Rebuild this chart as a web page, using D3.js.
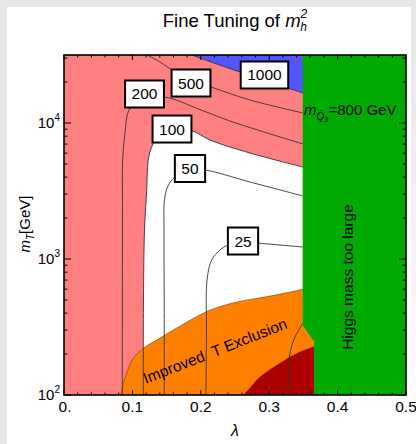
<!DOCTYPE html>
<html><head><meta charset="utf-8">
<script src="https://cdn.jsdelivr.net/npm/d3@7/dist/d3.min.js"></script>
<style>
html,body{margin:0;padding:0;background:#fff;}
svg{display:block;font-family:"Liberation Sans",Arial,sans-serif;}
</style></head>
<body>
<svg id="c" width="416" height="444"></svg>
<script>
// ---------- data (lambda, m_T [GeV]) ----------
const xTicks = [0, 0.1, 0.2, 0.3, 0.4, 0.5];
const xTickLabels = ["0.", "0.1", "0.2", "0.3", "0.4", "0.5"];
const yTicks = [100, 1000, 10000];
const yTickExps = ["2", "3", "4"];

const contour25 = [[0.2076,100],[0.2083,300],[0.2091,701],[0.2159,983],[0.2281,1165],[0.2398,1267],[0.2617,1334],[0.2822,1311],[0.3158,1267],[0.3494,1225]];
const contour50 = [[0.1466,100],[0.1465,499],[0.1462,1634],[0.1469,2716],[0.1520,3442],[0.1623,4008],[0.1842,4510],[0.2061,4510],[0.2719,3683],[0.3494,2905]];
const contour100 = [[0.1159,100],[0.1162,500],[0.1177,1634],[0.1209,3216],[0.1232,5345],[0.1282,6660],[0.1374,7890],[0.1550,8880],[0.1871,8740],[0.2135,7500],[0.2719,6015],[0.3494,4745]];
const contour200 = [[0.0852,100],[0.0855,2292],[0.0858,5345],[0.0892,8440],[0.0950,12460],[0.1111,14760],[0.1462,15530],[0.2003,12460],[0.2471,10165],[0.3494,7010]];
const contour500 = [[0.1213,31623],[0.1404,28090],[0.1579,24540],[0.1842,20700],[0.2149,18390],[0.2719,14760],[0.3494,11845]];
const contour1000 = [[0.1871,31623],[0.1988,30060],[0.2573,23710],[0.3275,18080],[0.3494,16620]];
const contourLow = [[0.3275,100],[0.3282,140],[0.3294,190],[0.3333,233],[0.3377,267],[0.3494,338]];

const exclusionTop = [[0.0833,100],[0.0867,122],[0.0917,145],[0.1013,187],[0.1159,220],[0.1404,262],[0.1648,311],[0.2086,410],[0.2471,475],[0.2963,528],[0.3450,592],[0.3494,601]];
const exclusionOldTop = [[0.2621,100],[0.2719,113],[0.2817,129],[0.2963,148],[0.3158,172],[0.3304,191],[0.3450,208],[0.3655,227]];
const higgsBoundary = [[0.349,31623],[0.5,31623],[0.5,100],[0.3655,100],[0.3655,247],[0.349,324]];

const labelNames = ["200","500","1000","100","50","25"];
const labelLambda = [0.1177,0.1857,0.2931,0.1579,0.1842,0.2617];
const labelMass = [16340,19680,22540,9030,4628,1356];

// ---------- layout ----------
const svg = d3.select("#c");
const x = d3.scaleLinear().domain([0,0.5]).range([64,406]);
const y = d3.scaleLog().domain([100,31623]).range([395,55]);
const X0 = x(0), X1 = x(0.5), Y0 = y(100), Y1 = y(31623);

// background frame
const defs = svg.append("defs");
const g1 = defs.append("linearGradient").attr("id","rg").attr("x1",0).attr("y1",0).attr("x2",0).attr("y2",1);
g1.append("stop").attr("offset","0").attr("stop-color","#e6e6e6");
g1.append("stop").attr("offset","1").attr("stop-color","#ffffff");
svg.append("rect").attr("x",0).attr("y",0).attr("width",416).attr("height",7).attr("fill","#e8e8e8");
svg.append("rect").attr("x",0).attr("y",0).attr("width",7).attr("height",444).attr("fill","#e8e8e8");
svg.append("rect").attr("x",411).attr("y",0).attr("width",5).attr("height",444).attr("fill","url(#rg)");

defs.append("clipPath").attr("id","plot").append("rect")
  .attr("x",X0).attr("y",Y1).attr("width",X1-X0).attr("height",Y0-Y1);

const P = svg.append("g").attr("clip-path","url(#plot)");
const curve = d3.curveCatmullRom.alpha(0.5);
const line = d3.line().x(d=>x(d[0])).y(d=>y(d[1])).curve(curve);
const lin = d3.line().x(d=>x(d[0])).y(d=>y(d[1]));

// pink base
P.append("rect").attr("x",X0).attr("y",Y1).attr("width",X1-X0).attr("height",Y0-Y1).attr("fill","#ff8080");
// white (below 100)
const last100 = contour100[contour100.length-1];
P.append("path").attr("fill","#fff")
  .attr("d", line(contour100) + `L${x(0.37)},${y(last100[1])}L${x(0.37)},${Y0}Z`);
// blue (above 1000)
const last1000 = contour1000[contour1000.length-1];
P.append("path").attr("fill","#5555ff")
  .attr("d", line(contour1000) + `L${x(0.37)},${y(last1000[1])}L${x(0.37)},${Y1}Z`);
// orange exclusion
const lastEx = exclusionTop[exclusionTop.length-1];
P.append("path").attr("fill","#ff8000")
  .attr("d", line(exclusionTop) + `L${x(0.3655)},${y(lastEx[1])}L${x(0.3655)},${Y0}Z`);
P.append("path").attr("fill","none").attr("stroke","#8a4500").attr("stroke-width",0.7)
  .attr("d", line(exclusionTop));
// dark red
P.append("path").attr("fill","#aa0000")
  .attr("d", line(exclusionOldTop) + `L${x(0.3655)},${Y0}Z`);

// contour lines
[contour25,contour50,contour100,contour200,contour500,contour1000,contourLow].forEach(c=>{
  P.append("path").attr("fill","none").attr("stroke","#333").attr("stroke-width",0.9).attr("d",line(c));
});

// green
P.append("path").attr("fill","#00aa00").attr("d", lin(higgsBoundary)+"Z");

// label boxes
labelNames.forEach((t,i)=>{
  const cx = x(labelLambda[i]), cy = y(labelMass[i]);
  const g = svg.append("g");
  const r = g.append("rect").attr("fill","#fff").attr("stroke","#000").attr("stroke-width",2);
  const tx = g.append("text").attr("x",cx).attr("y",cy+5.5).attr("text-anchor","middle")
    .attr("font-size",15.5).text(t);
  const w = tx.node().getComputedTextLength()+13;
  r.attr("x",cx-w/2).attr("y",cy-13.5).attr("width",w).attr("height",27);
});

// annotations
svg.append("text").attr("transform",`translate(${x(0.2208)},${y(211)}) rotate(-21.5)`)
  .attr("text-anchor","middle").attr("dy","0.35em").attr("font-size",15.5)
  .text("Improved\u00A0\u00A0T Exclusion");
svg.append("text").attr("transform",`translate(${x(0.4152)},${y(737)}) rotate(-90)`)
  .attr("text-anchor","middle").attr("dy","0.35em").attr("font-size",15.5)
  .text("Higgs mass too large");
const mq = svg.append("text").attr("x",x(0.3494)+1).attr("y",y(11450)).attr("font-size",15);
mq.append("tspan").attr("font-style","italic").text("m");
mq.append("tspan").attr("font-style","italic").attr("font-size",10).attr("dy",5).text("Q\u0304");
mq.append("tspan").attr("font-size",7.5).attr("dy",1.5).text("3");
mq.append("tspan").attr("dy",-6.5).text("=800 GeV");

// title
const tt = svg.append("text").attr("x",235).attr("y",27).attr("text-anchor","middle").attr("font-size",18.5);
tt.append("tspan").text("Fine Tuning of ");
tt.append("tspan").attr("font-style","italic").text("m");
tt.append("tspan").attr("font-style","italic").attr("font-size",12).attr("dy",-9).text("2");
tt.append("tspan").attr("font-style","italic").attr("font-size",12).attr("dx",-7).attr("dy",13).text("h");

// axis labels
svg.append("text").attr("x",235).attr("y",436).attr("text-anchor","middle")
  .attr("font-size",16).attr("font-style","italic").text("λ");
const yl = svg.append("text").attr("transform",`translate(30,224) rotate(-90)`).attr("text-anchor","middle").attr("font-size",15);
yl.append("tspan").attr("font-style","italic").text("m");
yl.append("tspan").attr("font-style","italic").attr("font-size",10).attr("dy",4).text("T");
yl.append("tspan").attr("dy",-4).text("[GeV]");

// frame
const F = svg.append("g").attr("stroke","#000").attr("fill","none");
F.append("rect").attr("x",X0).attr("y",Y1).attr("width",X1-X0).attr("height",Y0-Y1).attr("stroke-width",1.6);

// x ticks
const xMinor = d3.range(0,0.5001,0.02);
xMinor.forEach(v=>{
  const major = xTicks.some(t=>Math.abs(t-v)<1e-6);
  const L = major?5:2.5;
  F.append("line").attr("x1",x(v)).attr("x2",x(v)).attr("y1",Y0).attr("y2",Y0-L).attr("stroke-width",1);
  F.append("line").attr("x1",x(v)).attr("x2",x(v)).attr("y1",Y1).attr("y2",Y1+L).attr("stroke-width",1);
});
xTicks.forEach((v,i)=>{
  svg.append("text").attr("x",x(v)+(i===0?1:0)).attr("y",412).attr("text-anchor","middle").attr("font-size",15.5).text(xTickLabels[i]);
});
// y ticks
[100,1000,10000].forEach(dec=>{
  for(let k=1;k<=9;k++){
    const v=dec*k; if(v>31623) break;
    const L = k===1?7:3.5;
    F.append("line").attr("x1",X0).attr("x2",X0+L).attr("y1",y(v)).attr("y2",y(v)).attr("stroke-width",1);
    F.append("line").attr("x1",X1).attr("x2",X1-L).attr("y1",y(v)).attr("y2",y(v)).attr("stroke-width",1);
  }
});
yTicks.forEach((v,i)=>{
  const t = svg.append("text").attr("x",60).attr("y",y(v)+5).attr("text-anchor","end").attr("font-size",15);
  t.append("tspan").text("10");
  t.append("tspan").attr("font-size",10).attr("dy",-7).text(yTickExps[i]);
});
</script>
</body></html>
